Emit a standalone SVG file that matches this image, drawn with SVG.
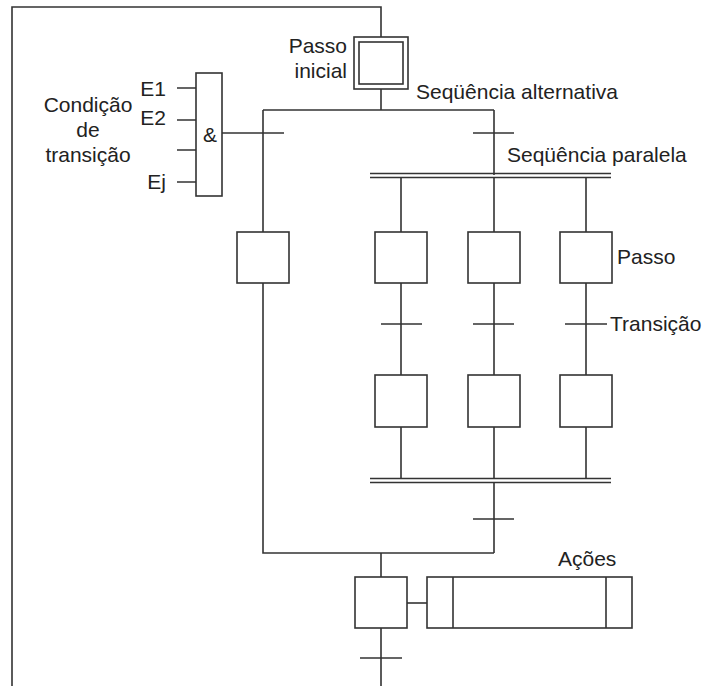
<svg xmlns="http://www.w3.org/2000/svg" width="703" height="686" viewBox="0 0 703 686">
<style>
.l{stroke:#333;stroke-width:1.6;fill:none}
.b{stroke:#333;stroke-width:1.6;fill:#fff}
.t{font-family:"Liberation Sans",Arial,sans-serif;font-size:21px;fill:#222}
</style>
<rect width="703" height="686" fill="#fff"/>
<g id="connectors">
<path class="l" d="M12 686V7H381V37"/>
<path class="l" d="M381 89V110M263 110H494M263 110V232M494 110V175"/>
<path class="l" d="M222 133H284M473 133H514"/>
<path class="l" d="M177 88H196M177 120H196M177 150H196M177 182H196"/>
<path class="l" d="M370 173.5H611M370 177.5H611"/>
<path class="l" d="M401 177V232M494 177V232M586 177V232"/>
<path class="l" d="M401 283V375M494 283V375M586 283V375"/>
<path class="l" d="M381 324H422M473 324H514M565 324H607"/>
<path class="l" d="M401 427V478M494 427V478M586 427V478"/>
<path class="l" d="M370 478.5H611M370 482.5H611"/>
<path class="l" d="M494 482V553M473 519H514"/>
<path class="l" d="M263 283V553H494M381 553V577"/>
<path class="l" d="M407 603H427"/>
<path class="l" d="M381 628V686M360 658H402"/>
</g>
<g id="initial-step"><rect class="b" x="354" y="37" width="54" height="52"/><rect class="b" x="359" y="42" width="44" height="42"/></g>
<g id="and-gate"><rect class="b" x="196" y="73" width="26" height="123"/><text class="t" x="210" y="142" text-anchor="middle">&amp;</text></g>
<g id="step-left"><rect class="b" x="237" y="232" width="52" height="51"/></g>
<g id="step-p1a"><rect class="b" x="375" y="232" width="52" height="51"/></g>
<g id="step-p2a"><rect class="b" x="468" y="232" width="52" height="51"/></g>
<g id="step-p3a"><rect class="b" x="560" y="232" width="52" height="51"/></g>
<g id="step-p1b"><rect class="b" x="375" y="375" width="52" height="52"/></g>
<g id="step-p2b"><rect class="b" x="468" y="375" width="52" height="52"/></g>
<g id="step-p3b"><rect class="b" x="560" y="375" width="52" height="52"/></g>
<g id="step-final"><rect class="b" x="355" y="577" width="52" height="51"/></g>
<g id="actions"><rect class="b" x="427" y="577" width="205" height="51"/><path class="l" d="M453 577V628M606 577V628"/></g>
<g id="labels">
<text class="t" x="347" y="53" text-anchor="end">Passo</text>
<text class="t" x="347" y="78" text-anchor="end">inicial</text>
<text class="t" x="88" y="112" text-anchor="middle">Condição</text>
<text class="t" x="88" y="137" text-anchor="middle">de</text>
<text class="t" x="88" y="162" text-anchor="middle">transição</text>
<text class="t" x="166" y="96" text-anchor="end">E1</text>
<text class="t" x="166" y="125" text-anchor="end">E2</text>
<text class="t" x="166" y="189" text-anchor="end">Ej</text>
<text class="t" x="416" y="99">Seqüência alternativa</text>
<text class="t" x="507" y="162">Seqüência paralela</text>
<text class="t" x="617" y="264">Passo</text>
<text class="t" x="610" y="331">Transição</text>
<text class="t" x="558" y="566">Ações</text>
</g>
</svg>
